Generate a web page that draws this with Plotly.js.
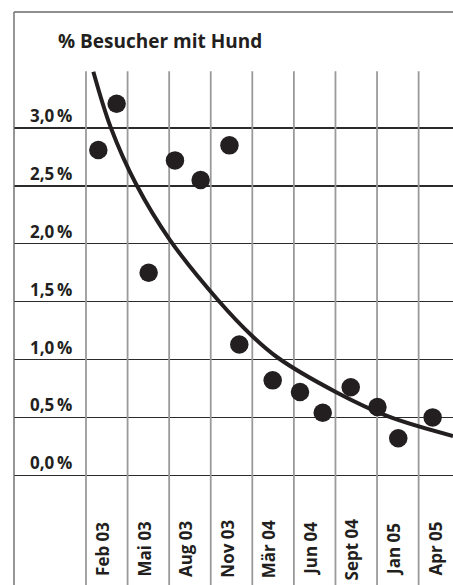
<!DOCTYPE html>
<html>
<head>
<meta charset="utf-8">
<script src="https://cdn.plot.ly/plotly-3.0.1.min.js"></script>
<style>html,body{margin:0;padding:0;background:#fff;}#chart{width:453px;height:585px;}</style>
</head>
<body>
<div id="chart"></div>
<script>
// ---- data (months counted from the left edge of the "Feb 03" column) ----
const pointMonths = [0.89, 2.21, 4.52, 6.42, 8.27, 10.35, 11.06, 13.47, 15.44, 17.08, 19.10, 21.03, 22.53, 25.01];
const pointShares = [2.81, 3.21, 1.75, 2.72, 2.55, 2.85, 1.13, 0.82, 0.72, 0.54, 0.76, 0.59, 0.32, 0.50];

const trendMonths = [0.53, 1.80, 3.61, 6.06, 9.55, 11.99, 13.87, 18.02, 21.81, 26.48];
const trendShares = [3.486, 3.00, 2.516, 2.032, 1.51, 1.203, 1.013, 0.720, 0.508, 0.339];

const monthLabels = ['Feb 03', 'Mai 03', 'Aug 03', 'Nov 03', 'Mär 04', 'Jun 04', 'Sept 04', 'Jan 05', 'Apr 05'];
const columnStarts = [0, 3, 6, 9, 12, 15, 18, 21, 24];

const yTickValues = [0, 0.5, 1.0, 1.5, 2.0, 2.5, 3.0];
const yTickLabels = ['0,0\u2009%', '0,5\u2009%', '1,0\u2009%', '1,5\u2009%', '2,0\u2009%', '2,5\u2009%', '3,0\u2009%'];

const titleText = '% Besucher mit Hund';

// ---- layout constants ----
const X_RANGE = [-5.195, 26.48];
const Y_RANGE = [-0.948, 4.002];
const GRID_TOP = 3.49;
const INK = '#231f20';
const FONT = '"Open Sans", "Noto Sans", sans-serif';

const shapes = [];
columnStarts.forEach(m => {
  shapes.push({type: 'line', xref: 'x', yref: 'y', x0: m, x1: m, y0: Y_RANGE[0], y1: GRID_TOP,
    line: {color: '#9a9a9a', width: 1.8}, layer: 'between'});
});
// frame: left and top
shapes.push({type: 'line', xref: 'paper', yref: 'paper', x0: 0, x1: 0, y0: 0, y1: 1, line: {color: '#6a6a6a', width: 1.4}});
shapes.push({type: 'line', xref: 'paper', yref: 'paper', x0: 0, x1: 1, y0: 1, y1: 1, line: {color: '#6a6a6a', width: 1.4}});

const annotations = [];
yTickValues.forEach((v, i) => {
  annotations.push({xref: 'x', yref: 'y', x: -0.9, y: v, xanchor: 'right', yanchor: 'bottom',
    yshift: -1, showarrow: false, text: yTickLabels[i],
    font: {family: FONT, size: 17, color: INK, weight: 700}});
});
monthLabels.forEach((lab, i) => {
  annotations.push({xref: 'x', yref: 'y', x: columnStarts[i] + 1.15, y: -0.637, xanchor: 'center', yanchor: 'middle',
    textangle: -90, showarrow: false, text: lab,
    font: {family: FONT, size: 17, color: INK, weight: 700}});
});

const traces = [
  {x: trendMonths, y: trendShares, mode: 'lines', type: 'scatter', line: {color: INK, width: 4, shape: 'spline', smoothing: 1},
   hoverinfo: 'skip', showlegend: false},
  {x: pointMonths, y: pointShares, mode: 'markers', type: 'scatter', marker: {color: INK, size: 18.5},
   showlegend: false}
];

const layout = {
  width: 453, height: 585,
  margin: {l: 14, r: 0, t: 12, b: 0, pad: 0},
  paper_bgcolor: '#fff', plot_bgcolor: '#fff',
  showlegend: false,
  title: {text: titleText, xref: 'container', yref: 'container', x: 58 / 453, xanchor: 'left',
    y: 1 - 41 / 585, yanchor: 'middle', font: {family: FONT, size: 19, color: INK, weight: 700}},
  xaxis: {range: X_RANGE, showgrid: false, zeroline: false, showticklabels: false, ticks: '', showline: false, fixedrange: true},
  yaxis: {range: Y_RANGE, tickmode: 'array', tickvals: yTickValues, showgrid: true, gridcolor: '#2a2a2a', gridwidth: 1.3,
    zeroline: false, showticklabels: false, ticks: '', showline: false, fixedrange: true},
  shapes: shapes,
  annotations: annotations
};

Plotly.newPlot('chart', traces, layout, {displayModeBar: false, staticPlot: true});
</script>
</body>
</html>
